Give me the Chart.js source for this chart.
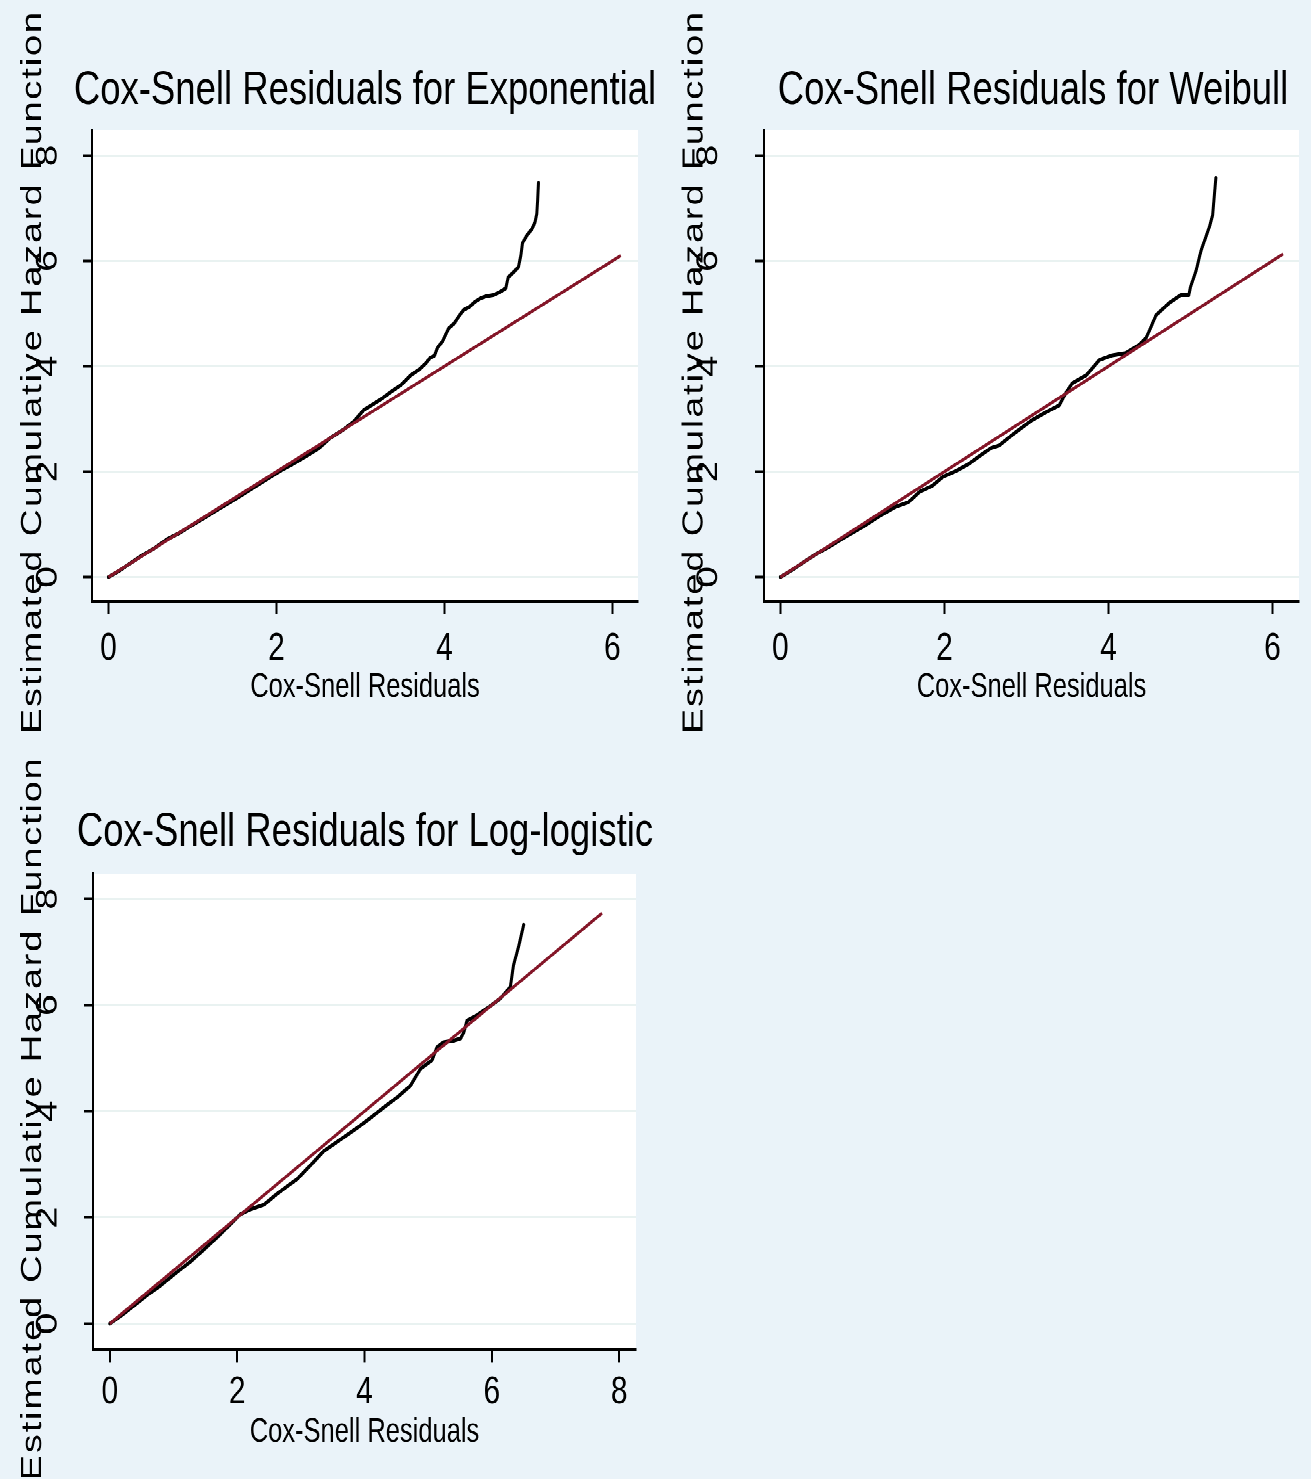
<!DOCTYPE html>
<html>
<head>
<meta charset="utf-8">
<script src="https://cdn.jsdelivr.net/npm/chart.js@4.4.1/dist/chart.umd.min.js"></script>
<style>
  html, body { margin: 0; padding: 0; width: 1311px; height: 1479px; overflow: hidden; background: #eaf3f9; }
  /* the graphs are laid out in a flattened frame, then stretched vertically */
  #stage { position: absolute; left: 0; top: 0; width: 1311px; height: 1137.7px; transform: scaleY(1.3); transform-origin: 0 0; }
  #stage canvas { position: absolute; }
</style>
</head>
<body>
<div id="stage">
  <canvas id="pExp" width="730" height="569" style="left:0px;top:0px"></canvas>
  <canvas id="pWei" width="746" height="569" style="left:660px;top:0px"></canvas>
  <canvas id="pLog" width="730" height="569" style="left:0px;top:569.23px"></canvas>
</div>
<script>
// ---- tick values ----
const yTickValues = [0, 2, 4, 6, 8];
const xTickValuesShort = [0, 2, 4, 6];
const xTickValuesLong = [0, 2, 4, 6, 8];

// ---- Exponential: Cox-Snell residuals vs. Nelson-Aalen cumulative hazard ----
const expResiduals = [0, 0.12, 0.25, 0.4, 0.55, 0.7, 0.85, 1.0, 1.15, 1.3, 1.45, 1.6, 1.75, 1.9, 2.05, 2.2, 2.35, 2.5, 2.64, 2.8, 2.92, 3.04, 3.15, 3.25, 3.36, 3.48, 3.6, 3.7, 3.78, 3.83, 3.88, 3.92, 3.98, 4.05, 4.12, 4.18, 4.23, 4.3, 4.36, 4.43, 4.5, 4.58, 4.65, 4.73, 4.76, 4.82, 4.88, 4.91, 4.93, 4.98, 5.04, 5.08, 5.10, 5.11, 5.12];
const expCumHazard = [0, 0.11, 0.25, 0.41, 0.55, 0.72, 0.84, 0.99, 1.13, 1.28, 1.42, 1.57, 1.72, 1.87, 2.02, 2.15, 2.29, 2.44, 2.64, 2.80, 2.95, 3.17, 3.28, 3.38, 3.51, 3.64, 3.83, 3.94, 4.06, 4.16, 4.20, 4.36, 4.48, 4.72, 4.82, 4.97, 5.07, 5.13, 5.22, 5.29, 5.33, 5.35, 5.40, 5.48, 5.69, 5.78, 5.88, 6.10, 6.34, 6.48, 6.60, 6.74, 6.90, 7.15, 7.48];
const expRefX = [0, 6.10];
const expRefY = [0, 6.10];

// ---- Weibull ----
const weiResiduals = [0, 0.15, 0.3, 0.45, 0.6, 0.8, 1.0, 1.2, 1.4, 1.56, 1.7, 1.85, 1.98, 2.15, 2.3, 2.45, 2.57, 2.67, 2.87, 3.07, 3.24, 3.40, 3.48, 3.56, 3.73, 3.89, 4.05, 4.21, 4.37, 4.46, 4.52, 4.58, 4.74, 4.88, 4.98, 5.00, 5.07, 5.13, 5.23, 5.27, 5.29, 5.31];
const weiCumHazard = [0, 0.14, 0.30, 0.45, 0.58, 0.77, 0.95, 1.15, 1.33, 1.42, 1.62, 1.73, 1.90, 2.02, 2.15, 2.32, 2.45, 2.50, 2.75, 2.98, 3.13, 3.26, 3.49, 3.68, 3.83, 4.12, 4.21, 4.25, 4.40, 4.54, 4.75, 4.97, 5.20, 5.35, 5.35, 5.50, 5.82, 6.20, 6.64, 6.86, 7.21, 7.57];
const weiRefX = [0, 6.13];
const weiRefY = [0, 6.13];

// ---- Log-logistic ----
const logResiduals = [0, 0.2, 0.4, 0.6, 0.8, 1.0, 1.27, 1.5, 1.75, 2.05, 2.2, 2.42, 2.6, 2.8, 2.94, 3.15, 3.36, 3.6, 3.89, 4.1, 4.30, 4.5, 4.72, 4.88, 5.06, 5.14, 5.24, 5.40, 5.51, 5.56, 5.61, 5.77, 5.95, 6.13, 6.29, 6.34, 6.42, 6.50];
const logCumHazard = [0, 0.17, 0.36, 0.55, 0.72, 0.92, 1.17, 1.42, 1.70, 2.06, 2.15, 2.24, 2.42, 2.60, 2.72, 2.98, 3.25, 3.45, 3.69, 3.88, 4.07, 4.25, 4.48, 4.80, 4.96, 5.21, 5.30, 5.33, 5.37, 5.49, 5.71, 5.81, 5.96, 6.12, 6.34, 6.75, 7.10, 7.51];
const logRefX = [0, 7.73];
const logRefY = [0, 7.73];

// ---- styling ----
const SANS = '"Liberation Sans", Arial, Helvetica, sans-serif';
const FIT_RED = '#841628';
const GRID = '#e9f2f1';

const pairs = (xs, ys) => xs.map((x, i) => ({ x, y: ys[i] }));

// white plot region behind the grid and lines
const plotBackground = {
  id: 'plotBackground',
  beforeDraw(chart) {
    const { ctx, chartArea: a } = chart;
    ctx.save();
    ctx.fillStyle = '#ffffff';
    ctx.fillRect(a.left, a.top, a.right - a.left, a.bottom - a.top);
    ctx.restore();
  }
};

// slightly tracked vertical axis title, nudged a little toward the bottom
const spacedAxisTitle = {
  id: 'spacedAxisTitle',
  beforeDraw(chart) {
    const s = chart.scales.y;
    if (!s || s.$spaced) return;
    const draw = s.drawTitle;
    s.drawTitle = function () {
      const c = this.ctx;
      c.save();
      c.letterSpacing = '1.5px';
      c.translate(0, 5);
      draw.apply(this, arguments);
      c.restore();
    };
    s.$spaced = true;
  }
};

function panel(id, p) {
  return new Chart(document.getElementById(id), {
    type: 'scatter',
    data: {
      datasets: [
        { data: pairs(p.refX, p.refY), showLine: true, borderColor: FIT_RED, borderWidth: 2.5,
          pointRadius: 0, order: 0 },
        { data: pairs(p.resid, p.hazard), showLine: true, borderColor: '#000000', borderWidth: 3,
          pointRadius: 0, borderJoinStyle: 'round', borderCapStyle: 'round', order: 1 }
      ]
    },
    options: {
      responsive: false,
      animation: false,
      devicePixelRatio: 2,
      events: [],
      layout: { padding: 0 },
      plugins: {
        legend: { display: false },
        tooltip: { enabled: false },
        title: {
          display: true, text: p.title, color: '#000000',
          font: { family: SANS, size: 36.5, weight: 'normal', lineHeight: 1 },
          padding: { top: p.titleTop, bottom: p.titleBottom }
        }
      },
      scales: {
        x: {
          type: 'linear', position: 'bottom', min: p.xMin, max: p.xMax,
          afterBuildTicks: s => { s.ticks = p.xTicks.map(v => ({ value: v })); },
          afterFit: s => { s.height = p.xAxisHeight; },
          grid: { display: true, drawOnChartArea: false, drawTicks: true, tickLength: 10, tickWidth: 2, tickColor: '#000000' },
          border: { display: true, color: '#000000', width: 2 },
          ticks: { color: '#000000', font: { family: SANS, size: 30, lineHeight: 1 }, padding: p.xTickPad,
                   maxRotation: 0, minRotation: 0, autoSkip: false },
          title: { display: true, text: 'Cox-Snell Residuals', color: '#000000',
                   font: { family: SANS, size: 25.5, lineHeight: 1 }, padding: { top: 0, bottom: p.xTitleBottom } }
        },
        y: {
          type: 'linear', position: 'left', min: p.yMin, max: p.yMax,
          afterBuildTicks: s => { s.ticks = yTickValues.map(v => ({ value: v })); },
          afterFit: s => { s.width = p.yAxisWidth; },
          grid: { display: true, drawOnChartArea: true, color: GRID, lineWidth: 1.5,
                  drawTicks: true, tickLength: 9, tickWidth: 2, tickColor: '#000000' },
          border: { display: true, color: '#000000', width: 2 },
          ticks: { color: '#000000', font: { family: SANS, size: 30, lineHeight: 1 }, padding: p.yTickPad,
                   minRotation: 90, maxRotation: 90, crossAlign: 'center', autoSkip: false },
          title: { display: true, text: 'Estimated Cumulative Hazard Function', color: '#000000',
                   font: { family: SANS, size: 29, lineHeight: 1 }, padding: { top: p.yTitlePad, bottom: 0 } }
        },
        // empty right-hand margin axis: keeps the plot region narrower than the title band
        margin: {
          type: 'linear', position: 'right', display: true,
          grid: { display: false }, border: { display: false }, ticks: { display: false },
          afterFit: s => { s.width = p.rightMargin; }
        }
      }
    },
    plugins: [plotBackground, spacedAxisTitle]
  });
}

panel('pExp', {
  title: 'Cox-Snell Residuals for Exponential',
  resid: expResiduals, hazard: expCumHazard, refX: expRefX, refY: expRefY,
  xTicks: xTickValuesShort, xMin: -0.196, xMax: 6.305, yMin: -0.455, yMax: 8.484,
  rightMargin: 92, yAxisWidth: 92, xAxisHeight: 106.7,
  titleTop: 51.75, titleBottom: 11.75, xTickPad: 11.9, xTitleBottom: 27.1, yTitlePad: 18.5, yTickPad: 26.5
});

panel('pWei', {
  title: 'Cox-Snell Residuals for Weibull',
  resid: weiResiduals, hazard: weiCumHazard, refX: weiRefX, refY: weiRefY,
  xTicks: xTickValuesShort, xMin: -0.2, xMax: 6.324, yMin: -0.455, yMax: 8.484,
  rightMargin: 107, yAxisWidth: 104, xAxisHeight: 106.7,
  titleTop: 51.75, titleBottom: 11.75, xTickPad: 11.9, xTitleBottom: 27.1, yTitlePad: 20, yTickPad: 38
});

panel('pLog', {
  title: 'Cox-Snell Residuals for Log-logistic',
  resid: logResiduals, hazard: logCumHazard, refX: logRefX, refY: logRefY,
  xTicks: xTickValuesLong, xMin: -0.264, xMax: 8.264, yMin: -0.49, yMax: 8.473,
  rightMargin: 94, yAxisWidth: 93, xAxisHeight: 99.8,
  titleTop: 53.3, titleBottom: 13.3, xTickPad: 8.1, xTitleBottom: 23.35, yTitlePad: 18.5, yTickPad: 27.5
});
</script>
</body>
</html>
